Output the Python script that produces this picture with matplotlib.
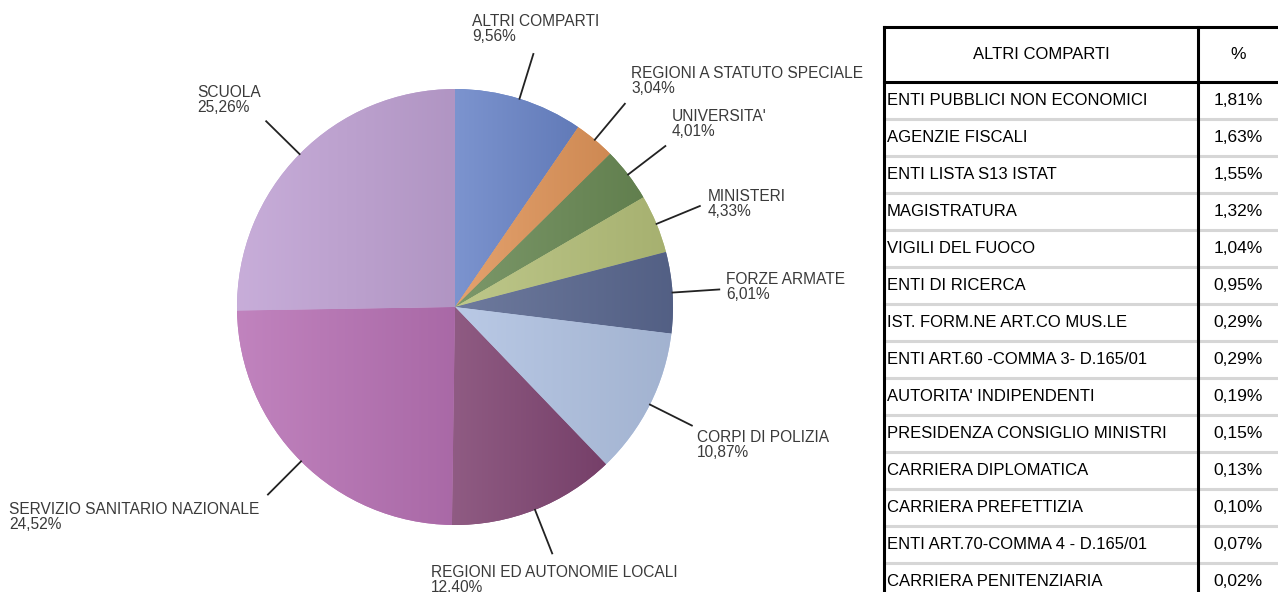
import numpy as np
import matplotlib
matplotlib.use("Agg")
import matplotlib.pyplot as plt
from matplotlib.colors import to_rgb

# ---------------- data ----------------
pie_labels = ["ALTRI COMPARTI", "REGIONI A STATUTO SPECIALE", "UNIVERSITA'",
              "MINISTERI", "FORZE ARMATE", "CORPI DI POLIZIA",
              "REGIONI ED AUTONOMIE LOCALI", "SERVIZIO SANITARIO NAZIONALE",
              "SCUOLA"]
pie_values = [9.56, 3.04, 4.01, 4.33, 6.01, 10.87, 12.40, 24.52, 25.26]
pie_colors = ["#6a85c8", "#e0955a", "#6a8a55", "#b5c07a", "#5a6890",
              "#b0c2e2", "#804572", "#b872b5", "#c0a2d4"]

table_header = ["ALTRI COMPARTI", "%"]
table_names = ["ENTI PUBBLICI NON ECONOMICI", "AGENZIE FISCALI",
               "ENTI LISTA S13 ISTAT", "MAGISTRATURA", "VIGILI DEL FUOCO",
               "ENTI DI RICERCA", "IST. FORM.NE ART.CO MUS.LE",
               "ENTI ART.60 -COMMA 3- D.165/01", "AUTORITA' INDIPENDENTI",
               "PRESIDENZA CONSIGLIO MINISTRI", "CARRIERA DIPLOMATICA",
               "CARRIERA PREFETTIZIA", "ENTI ART.70-COMMA 4 - D.165/01",
               "CARRIERA PENITENZIARIA"]
table_values = [1.81, 1.63, 1.55, 1.32, 1.04, 0.95, 0.29, 0.29, 0.19,
                0.15, 0.13, 0.10, 0.07, 0.02]

# label anchors (pixels, top-left origin): (x, y of text block centre, ha)
label_pos = [(536, 29, "center"), (631, 81, "left"), (672, 124, "left"),
             (708, 204, "left"), (726, 287, "left"), (697, 445, "left"),
             (431, 580, "left"), (9, 517, "left"), (197, 100, "left")]

W, H = 1278, 592
plt.rcParams["font.family"] = ["Liberation Sans", "DejaVu Sans"]
fig = plt.figure(figsize=(W / 100, H / 100), dpi=100)
ax = fig.add_axes([0, 0, 1, 1])


def fy(y):
    return H - y


cx, cy, R = 455, 307, 218
wedges, _ = ax.pie(pie_values, startangle=90, counterclock=False,
                   colors=pie_colors, center=(cx, fy(cy)), radius=R,
                   wedgeprops=dict(linewidth=0), frame=True)
ax.set_xlim(0, W)
ax.set_ylim(0, H)
ax.set_aspect("equal")
ax.axis("off")

# subtle horizontal gradient inside each wedge
for w, c in zip(wedges, pie_colors):
    t1, t2 = np.deg2rad(w.theta1), np.deg2rad(w.theta2)
    ts = np.linspace(t1, t2, 60)
    xs = np.concatenate([[cx], cx + R * np.cos(ts)])
    ys = np.concatenate([[fy(cy)], fy(cy) + R * np.sin(ts)])
    base = np.array(to_rgb(c))
    light = base + (1 - base) * 0.12
    dark = base * 0.92
    g = np.linspace(0, 1, 64)[None, :, None]
    img = light[None, None, :] * (1 - g) + dark[None, None, :] * g
    im = ax.imshow(img, extent=(xs.min(), xs.max(), ys.min(), ys.max()),
                   aspect="auto", interpolation="bilinear", zorder=1.5)
    im.set_clip_path(w)
ax.set_xlim(0, W)
ax.set_ylim(0, H)


def fmt(v):
    return ("%.2f%%" % v).replace(".", ",")


for w, lab, v, (tx, ty, ha) in zip(wedges, pie_labels, pie_values, label_pos):
    ang = np.deg2rad((w.theta1 + w.theta2) / 2)
    x0, y0 = cx + R * np.cos(ang), fy(cy) + R * np.sin(ang)
    x1, y1 = cx + 1.215 * R * np.cos(ang), fy(cy) + 1.215 * R * np.sin(ang)
    ax.plot([x0, x1], [y0, y1], color="#222222", lw=1.3, zorder=3)
    ax.text(tx, fy(ty), lab + "\n" + fmt(v), ha=ha, va="center",
            multialignment="left", fontsize=11.2, color="#3a3a3a",
            linespacing=1.05, zorder=4)

# ---------------- table ----------------
tl, tdiv, tr = 884, 1198, 1290
ttop, thead, rowh = 27, 82, 37
gray = "#d6d6d6"
for i in range(len(table_names)):
    yb = thead + (i + 1) * rowh
    ax.plot([tl, tr], [fy(yb), fy(yb)], color=gray, lw=2.2, zorder=2)
    yc = thead + (i + 0.5) * rowh
    ax.text(tl + 3, fy(yc), table_names[i], ha="left", va="center",
            fontsize=12, color="black")
    ax.text(1238, fy(yc), fmt(table_values[i]), ha="center", va="center",
            fontsize=12.5, color="black")
ax.plot([tl, tr], [fy(ttop), fy(ttop)], color="black", lw=2.2, zorder=3)
ax.plot([tl, tr], [fy(thead), fy(thead)], color="black", lw=2.2, zorder=3)
ax.plot([tl, tl], [fy(ttop), -5], color="black", lw=2.2, zorder=3)
ax.plot([tdiv, tdiv], [fy(ttop), -5], color="black", lw=2.2, zorder=3)
ax.text((tl + tdiv) / 2, fy((ttop + thead) / 2), table_header[0],
        ha="center", va="center", fontsize=12, color="black")
ax.text(1238, fy((ttop + thead) / 2), table_header[1],
        ha="center", va="center", fontsize=12.5, color="black")

fig.savefig("out.png", dpi=100)
